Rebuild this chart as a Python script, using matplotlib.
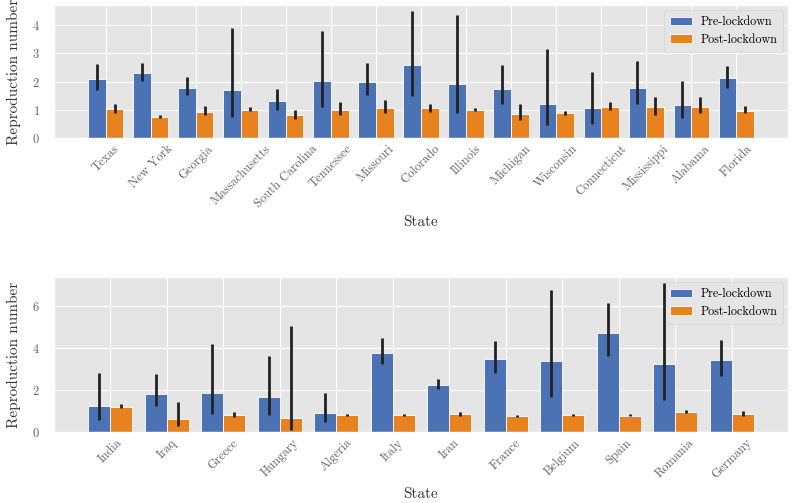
import matplotlib
matplotlib.use('Agg')
import matplotlib.pyplot as plt
import numpy as np

plt.style.use('ggplot')
plt.rcParams['font.family'] = 'serif'
plt.rcParams['font.serif'] = ['cmr10', 'DejaVu Serif']
plt.rcParams['axes.formatter.use_mathtext'] = True

# US states
states = ['Texas', 'New York', 'Georgia', 'Massachusetts', 'South Carolina', 'Tennessee',
          'Missouri', 'Colorado', 'Illinois', 'Michigan', 'Wisconsin', 'Connecticut',
          'Mississippi', 'Alabama', 'Florida']
us_pre = [2.08, 2.29, 1.79, 1.70, 1.32, 2.03, 1.98, 2.59, 1.92, 1.74, 1.20, 1.06, 1.79, 1.18, 2.12]
us_pre_lo = [1.70, 2.02, 1.52, 0.75, 1.01, 1.10, 1.51, 1.48, 0.87, 1.22, 0.47, 0.49, 1.22, 0.71, 1.78]
us_pre_hi = [2.63, 2.67, 2.16, 3.90, 1.74, 3.80, 2.67, 4.51, 4.38, 2.58, 3.15, 2.36, 2.72, 2.04, 2.55]
us_post = [1.03, 0.75, 0.93, 1.01, 0.80, 1.01, 1.08, 1.06, 1.01, 0.84, 0.89, 1.10, 1.09, 1.10, 0.97]
us_post_lo = [0.89, 0.70, 0.83, 0.95, 0.68, 0.83, 0.89, 0.94, 0.96, 0.63, 0.83, 0.99, 0.83, 0.89, 0.88]
us_post_hi = [1.22, 0.80, 1.13, 1.10, 1.01, 1.27, 1.34, 1.21, 1.08, 1.19, 0.97, 1.27, 1.46, 1.44, 1.13]

# countries
countries = ['India', 'Iraq', 'Greece', 'Hungary', 'Algeria', 'Italy', 'Iran', 'France',
             'Belgium', 'Spain', 'Romania', 'Germany']
c_pre = [1.25, 1.79, 1.87, 1.65, 0.90, 3.78, 2.25, 3.47, 3.37, 4.70, 3.23, 3.42]
c_pre_lo = [0.57, 1.22, 0.87, 0.79, 0.46, 3.25, 2.06, 2.80, 1.69, 3.63, 1.50, 2.68]
c_pre_hi = [2.82, 2.77, 4.20, 3.63, 1.88, 4.48, 2.53, 4.35, 6.76, 6.16, 7.08, 4.39]
c_post = [1.19, 0.60, 0.81, 0.66, 0.81, 0.82, 0.84, 0.74, 0.79, 0.78, 0.95, 0.84]
c_post_lo = [1.16, 0.27, 0.71, 0.11, 0.78, 0.78, 0.78, 0.70, 0.74, 0.74, 0.89, 0.74]
c_post_hi = [1.31, 1.44, 0.97, 5.05, 0.87, 0.87, 0.93, 0.81, 0.87, 0.84, 1.04, 1.00]

blue = '#4A72B5'
orange = '#E8821E'
w = 0.39


def draw(ax, names, pre, pre_lo, pre_hi, post, post_lo, post_hi, pad, ytop):
    x = np.arange(len(names))
    pre = np.array(pre)
    post = np.array(post)
    pre_err = [pre - np.array(pre_lo), np.array(pre_hi) - pre]
    post_err = [post - np.array(post_lo), np.array(post_hi) - post]
    ekw = dict(ecolor='#222222', elinewidth=2, capsize=0, zorder=6)
    ax.bar(x - w / 2, pre, w, color=blue, edgecolor='white', linewidth=0.6,
           yerr=pre_err, error_kw=ekw, label='Pre-lockdown')
    ax.bar(x + w / 2, post, w, color=orange, edgecolor='white', linewidth=0.6,
           yerr=post_err, error_kw=ekw, label='Post-lockdown')
    ax.set_xticks(x)
    ax.set_xticklabels(names, rotation=45, ha='center', fontsize=9, color='#666666')
    ax.tick_params(axis='y', labelsize=9, labelcolor='#666666')
    ax.tick_params(length=0)
    ax.tick_params(axis='y', pad=10)
    ax.set_xlim(-pad, len(names) - 1 + pad)
    ax.set_ylim(0, ytop)
    ax.set_ylabel('Reproduction number', fontsize=11, color='#333333', labelpad=8)
    ax.set_xlabel('State', fontsize=11, color='#333333')
    ax.legend(loc='upper right', fontsize=8.7, facecolor='#E5E5E5', edgecolor='#D5D5D5',
              framealpha=1, handlelength=1.8, handletextpad=0.7, borderpad=0.5,
              labelspacing=0.45, borderaxespad=0.4)


fig = plt.figure(figsize=(8, 5.03), dpi=100)
ax1 = fig.add_axes([54 / 800, 1 - 138 / 503, 734 / 800, 133 / 503])
ax2 = fig.add_axes([54 / 800, 1 - 432 / 503, 734 / 800, 155 / 503])

draw(ax1, states, us_pre, us_pre_lo, us_pre_hi, us_post, us_post_lo, us_post_hi, 1.15, 4.72)
ax1.set_yticks([0, 1, 2, 3, 4])
draw(ax2, countries, c_pre, c_pre_lo, c_pre_hi, c_post, c_post_lo, c_post_hi, 1.0, 7.38)
ax2.set_yticks([0, 2, 4, 6])

fig.savefig('out.png', dpi=100)
